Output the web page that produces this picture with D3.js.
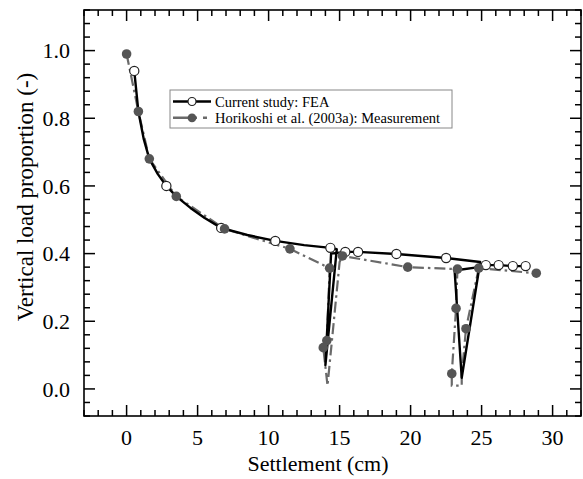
<!DOCTYPE html>
<html><head><meta charset="utf-8">
<script src="https://cdn.jsdelivr.net/npm/d3@7"></script>
<style>body{margin:0;background:#fff}svg{display:block}
svg text{font-family:"Liberation Serif","Times New Roman",Times,"DejaVu Serif",serif;}</style>
</head><body>
<svg id="c" width="583" height="479"></svg>
<script>
// ---- data ----
const feaLineX = [0.54,0.83,1.2,1.6,2.2,2.8,3.5,4.5,5.5,6.66,8.5,10.47,12.5,14.35,14.8,14.0,14.4,15.4,16.3,19.0,22.5,24.9,23.6,23.1,24.8,25.3,26.2,27.2,28.1];
const feaLineY = [0.94,0.82,0.74,0.68,0.635,0.60,0.569,0.535,0.505,0.476,0.455,0.4375,0.425,0.417,0.413,0.07,0.40,0.405,0.405,0.399,0.387,0.375,0.033,0.35,0.36,0.366,0.366,0.363,0.363];
const feaMarkX = [0.54,2.8,6.66,10.47,14.35,15.4,16.3,19.0,22.5,25.3,26.2,27.2,28.1];
const feaMarkY = [0.94,0.60,0.476,0.4375,0.417,0.405,0.405,0.399,0.387,0.366,0.366,0.363,0.363];
const measLineX = [0,0.83,1.6,3.5,6.9,11.5,14.3,14.1,13.85,14.15,15.0,15.2,19.8,23.3,23.2,22.9,22.9,23.6,23.6,23.9,24.8,28.85];
const measLineY = [0.99,0.82,0.68,0.569,0.473,0.414,0.357,0.143,0.122,0.01,0.375,0.393,0.36,0.354,0.238,0.045,0.01,0.01,0.04,0.178,0.357,0.342];
const measMarkX = [0,0.83,1.6,3.5,6.9,11.5,14.3,14.1,13.85,15.2,19.8,23.3,23.2,22.9,23.9,24.8,28.85];
const measMarkY = [0.99,0.82,0.68,0.569,0.473,0.414,0.357,0.143,0.122,0.393,0.36,0.354,0.238,0.045,0.178,0.357,0.342];
const xTicks = [0,5,10,15,20,25,30];
const yTicks = [0.0,0.2,0.4,0.6,0.8,1.0];
const seriesNames = ["Current study: FEA","Horikoshi et al. (2003a): Measurement"];
const xTitle = "Settlement (cm)";
const yTitle = "Vertical load proportion (-)";

// ---- layout ----
const L=84,R=581,T=10,B=416;
const svg=d3.select("#c");
const x=d3.scaleLinear().domain([-3,32]).range([L,R]);
const y=d3.scaleLinear().domain([-0.08,1.12]).range([B,T]);
const grey="#555", greyLine="#6a6a6a";

// ticks
const xMinor=d3.range(-3,33,1).filter(v=>v%5!==0);
const yMinor=d3.range(-2,29,1).map(v=>+(v*0.04).toFixed(2)).filter(v=>Math.round(v*100)%20!==0);
const g=svg.append("g");
function tx(v,len){g.append("line").attr("x1",x(v)).attr("x2",x(v)).attr("y1",B).attr("y2",B-len).attr("stroke","#000").attr("stroke-width",1.5);
  g.append("line").attr("x1",x(v)).attr("x2",x(v)).attr("y1",T).attr("y2",T+len).attr("stroke","#000").attr("stroke-width",1.5);}
function ty(v,len){g.append("line").attr("y1",y(v)).attr("y2",y(v)).attr("x1",L).attr("x2",L+len).attr("stroke","#000").attr("stroke-width",1.5);
  g.append("line").attr("y1",y(v)).attr("y2",y(v)).attr("x1",R).attr("x2",R-len).attr("stroke","#000").attr("stroke-width",1.5);}
xTicks.forEach(v=>tx(v,11)); xMinor.forEach(v=>tx(v,6));
yTicks.forEach(v=>ty(v,11)); yMinor.forEach(v=>ty(v,6));
g.append("rect").attr("x",L).attr("y",T).attr("width",R-L).attr("height",B-T).attr("fill","none").attr("stroke","#000").attr("stroke-width",1.6);

// tick labels
svg.append("g").selectAll("text").data(xTicks).join("text")
  .attr("x",d=>x(d)).attr("y",445).attr("text-anchor","middle")
  .attr("font-size",22).text(d=>d);
svg.append("g").selectAll("text").data(yTicks).join("text")
  .attr("x",70).attr("y",d=>y(d)).attr("dy","0.35em").attr("text-anchor","end")
  .attr("font-size",22).text(d=>d.toFixed(1));
svg.append("text").attr("x",318).attr("y",471).attr("text-anchor","middle")
  .attr("font-size",22).text(xTitle);
svg.append("text").attr("transform","translate(33,197) rotate(-90)").attr("text-anchor","middle")
  .attr("font-size",23).text(yTitle);

// series
const line=d3.line().x(d=>x(d[0])).y(d=>y(d[1]));
const measLine=measLineX.map((v,i)=>[v,measLineY[i]]);
const feaLine=feaLineX.map((v,i)=>[v,feaLineY[i]]);
const dash="11,4,2.5,4";
svg.append("path").attr("d",line(measLine)).attr("fill","none").attr("stroke",greyLine).attr("stroke-width",2.2).attr("stroke-dasharray",dash);
svg.append("path").attr("d",line(feaLine)).attr("fill","none").attr("stroke","#000").attr("stroke-width",2.4).attr("stroke-linejoin","round");
svg.append("g").selectAll("circle").data(feaMarkX.map((v,i)=>[v,feaMarkY[i]])).join("circle")
  .attr("cx",d=>x(d[0])).attr("cy",d=>y(d[1])).attr("r",4.6).attr("fill","#fff").attr("stroke","#222").attr("stroke-width",1.2);
svg.append("g").selectAll("circle").data(measMarkX.map((v,i)=>[v,measMarkY[i]])).join("circle")
  .attr("cx",d=>x(d[0])).attr("cy",d=>y(d[1])).attr("r",4.8).attr("fill",grey);

// legend
const lg=svg.append("g");
lg.append("rect").attr("x",170).attr("y",90).attr("width",282).attr("height",38).attr("fill","#fff").attr("stroke","#888").attr("stroke-width",1);
lg.append("line").attr("x1",173).attr("x2",211).attr("y1",101.5).attr("y2",101.5).attr("stroke","#000").attr("stroke-width",2.4);
lg.append("circle").attr("cx",192).attr("cy",101.5).attr("r",4).attr("fill","#fff").attr("stroke","#222").attr("stroke-width",1.2);
lg.append("line").attr("x1",173).attr("x2",211).attr("y1",117.8).attr("y2",117.8).attr("stroke",greyLine).attr("stroke-width",2.4).attr("stroke-dasharray","24,6,4,4");
lg.append("circle").attr("cx",192).attr("cy",117.8).attr("r",4.4).attr("fill",grey);
lg.selectAll("text").data(seriesNames).join("text").attr("x",215).attr("y",(d,i)=>101.5+i*16.3).attr("dy","0.35em")
  .attr("font-size",14.5).text(d=>d);
</script>
</body></html>
